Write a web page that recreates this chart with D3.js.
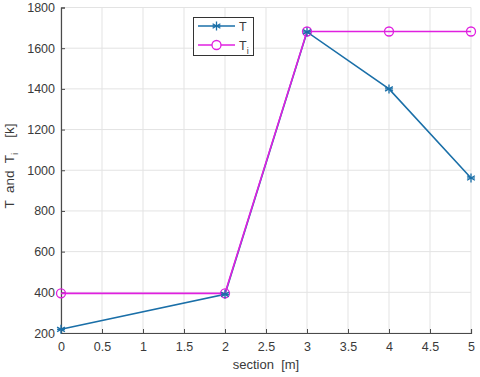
<!DOCTYPE html>
<html lang="en">
<head>
<meta charset="UTF-8">
<title>T and Ti by section</title>
<style>
    body { margin: 0; background: #fff; }
    svg text { font-family: "Liberation Sans", Arial, sans-serif; fill: #3a3a3a; white-space: pre; }
</style>
</head>
<body>
<svg width="480" height="377"></svg>
<script src="https://d3js.org/d3.v7.min.js"></script>
<script>
// data
var sections = [0, 2, 3, 4, 5];
var tValues = [218, 390, 1680, 1400, 962];
var tiValues = [395, 395, 1682, 1682, 1682];
var xTicks = [0, 0.5, 1, 1.5, 2, 2.5, 3, 3.5, 4, 4.5, 5];
var yTicks = [200, 400, 600, 800, 1000, 1200, 1400, 1600, 1800];

var svg = d3.select("svg");
var padL = 61, padR = 471, padT = 7.5, padB = 333;

var x = d3.scaleLinear().domain([0, 5]).range([padL, padR]);
var y = d3.scaleLinear().domain([200, 1800]).range([padB, padT]);

// grid
svg.append("g").selectAll("line").data(xTicks).enter().append("line")
    .attr("x1", d => x(d)).attr("x2", d => x(d))
    .attr("y1", padT).attr("y2", padB)
    .attr("stroke", "#e3e3e3").attr("stroke-width", 1);
svg.append("g").selectAll("line").data(yTicks).enter().append("line")
    .attr("x1", padL).attr("x2", padR)
    .attr("y1", d => y(d)).attr("y2", d => y(d))
    .attr("stroke", "#e3e3e3").attr("stroke-width", 1);

// axes
var xAxis = svg.append("g").attr("transform", "translate(0," + padB + ")")
    .call(d3.axisBottom(x).tickValues(xTicks).tickSize(-4).tickPadding(9).tickFormat(d3.format("")));
var yAxis = svg.append("g").attr("transform", "translate(" + padL + ",0)")
    .call(d3.axisLeft(y).tickValues(yTicks).tickSize(-4).tickPadding(6).tickFormat(d3.format("")));
[xAxis, yAxis].forEach(function (a) {
    a.select(".domain").attr("stroke", "#4a4a4a").attr("stroke-width", 1.2);
    a.selectAll(".tick line").attr("stroke", "#4a4a4a");
    a.selectAll("text").attr("font-size", 12.5).attr("fill", "#3a3a3a")
        .attr("font-family", "'Liberation Sans', Arial, sans-serif");
});

// series
var tPts = sections.map((s, i) => [s, tValues[i]]);
var tiPts = sections.map((s, i) => [s, tiValues[i]]);
var line = d3.line().x(d => x(d[0])).y(d => y(d[1]));
var blue = "#1a6fa8", magenta = "#e020e0";

svg.append("path").datum(tPts).attr("d", line)
    .attr("fill", "none").attr("stroke", blue).attr("stroke-width", 1.6);
svg.append("path").datum(tiPts).attr("d", line)
    .attr("fill", "none").attr("stroke", magenta).attr("stroke-width", 1.6);

function star(g, cx, cy, r, color) {
    [0, 60, 120].forEach(function (a) {
        var rad = a * Math.PI / 180;
        g.append("line")
            .attr("x1", cx - r * Math.sin(rad)).attr("y1", cy - r * Math.cos(rad))
            .attr("x2", cx + r * Math.sin(rad)).attr("y2", cy + r * Math.cos(rad))
            .attr("stroke", color).attr("stroke-width", 1.3);
    });
    g.append("line").attr("x1", cx - r * 0.87).attr("x2", cx + r * 0.87)
        .attr("y1", cy).attr("y2", cy).attr("stroke", color).attr("stroke-width", 1.3);
}

var tiMarks = svg.append("g");
tiPts.forEach(function (d) {
    tiMarks.append("circle").attr("cx", x(d[0])).attr("cy", y(d[1])).attr("r", 4.5)
        .attr("fill", "none").attr("stroke", magenta).attr("stroke-width", 1.3);
});
var tMarks = svg.append("g");
tPts.forEach(function (d) { star(tMarks, x(d[0]), y(d[1]), 4.5, blue); });

// legend
var lg = svg.append("g");
lg.append("rect").attr("x", 193.5).attr("y", 17.5).attr("width", 60).attr("height", 38)
    .attr("fill", "#fff").attr("stroke", "#333").attr("stroke-width", 1);
lg.append("line").attr("x1", 198).attr("x2", 235).attr("y1", 26).attr("y2", 26)
    .attr("stroke", blue).attr("stroke-width", 1.4);
star(lg, 216.5, 26, 4.5, blue);
lg.append("line").attr("x1", 198).attr("x2", 235).attr("y1", 45).attr("y2", 45)
    .attr("stroke", magenta).attr("stroke-width", 1.4);
lg.append("circle").attr("cx", 216.5).attr("cy", 45).attr("r", 4.5)
    .attr("fill", "#fff").attr("stroke", magenta).attr("stroke-width", 1.3);
lg.append("text").attr("x", 239).attr("y", 30.5).attr("font-size", 12.5).text("T");
var ti = lg.append("text").attr("x", 239).attr("y", 49.5).attr("font-size", 12.5);
ti.append("tspan").text("T");
ti.append("tspan").attr("font-size", 9).attr("dy", 4).text("i");

// axis labels
svg.append("text").attr("x", (padL + padR) / 2).attr("y", 369)
    .attr("text-anchor", "middle").attr("font-size", 13).text("section  [m]");
var yl = svg.append("text").attr("transform", "translate(14," + 166 + ") rotate(-90)")
    .attr("text-anchor", "middle").attr("font-size", 13.5);
yl.append("tspan").text("T  and  T");
yl.append("tspan").attr("font-size", 9.5).attr("dy", 4).text("i");
yl.append("tspan").attr("dy", -4).text("    [k]");
</script>
</body>
</html>
